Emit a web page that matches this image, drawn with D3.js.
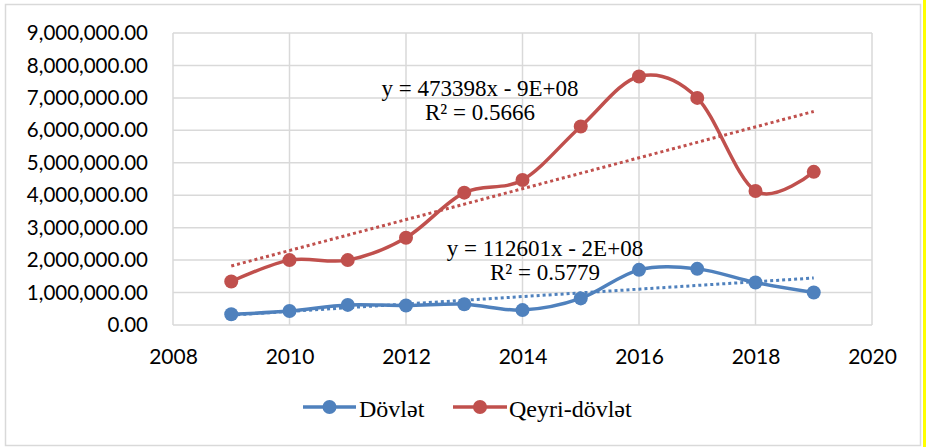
<!DOCTYPE html>
<html><head><meta charset="utf-8">
<script src="https://cdn.jsdelivr.net/npm/d3@7"></script>
<style>html,body{margin:0;padding:0;background:#fff;overflow:hidden}</style>
</head><body>
<svg id="c" width="926" height="447"></svg>
<script>
const years = [2009,2010,2011,2012,2013,2014,2015,2016,2017,2018,2019];
const dovlet = [330000,430000,620000,600000,640000,460000,820000,1700000,1730000,1310000,1000000];
const qeyriDovlet = [1340000,2000000,2000000,2690000,4080000,4470000,6120000,7660000,7000000,4130000,4720000];
const seriesNames = ["Dövlət","Qeyri-dövlət"];
const xTicks = [2008,2010,2012,2014,2016,2018,2020];
const yTicks = [0,1000000,2000000,3000000,4000000,5000000,6000000,7000000,8000000,9000000];
const trendLabels = [
  {eq:"y = 112601x - 2E+08", r2:"R² = 0.5779"},
  {eq:"y = 473398x - 9E+08", r2:"R² = 0.5666"}
];
const colors = ["#4F81BD","#C0504D"];

const svg = d3.select("#c");
// outer frame
svg.append("rect").attr("x",5.5).attr("y",4.5).attr("width",915).attr("height",441)
  .attr("fill","#fff").attr("stroke","#d9d9d9").attr("stroke-width",1.5);
svg.append("rect").attr("x",923).attr("y",0).attr("width",3).attr("height",447).attr("fill","#ffff00");

const L=173, R=872, T=33, B=325;
const x = d3.scaleLinear().domain([2008,2020]).range([L,R]);
const y = d3.scaleLinear().domain([0,9000000]).range([B,T]);

// grid
const g = svg.append("g");
g.selectAll(".hg").data(yTicks).join("line")
  .attr("x1",L).attr("x2",R).attr("y1",d=>y(d)).attr("y2",d=>y(d))
  .attr("stroke","#d9d9d9").attr("stroke-width",1.5);
g.selectAll(".vg").data(xTicks).join("line")
  .attr("x1",d=>x(d)).attr("x2",d=>x(d)).attr("y1",T).attr("y2",B)
  .attr("stroke","#d9d9d9").attr("stroke-width",1.5);

// axes
const fmt = d3.format(",.2f");
const ya = svg.append("g").attr("transform",`translate(${L},0)`)
  .call(d3.axisLeft(y).tickValues(yTicks).tickFormat(fmt).tickSize(0).tickPadding(25));
const xa = svg.append("g").attr("transform",`translate(0,${B})`)
  .call(d3.axisBottom(x).tickValues(xTicks).tickFormat(d3.format("d")).tickSize(0).tickPadding(24));
[ya,xa].forEach(a=>{a.select(".domain").remove();
  a.selectAll("text").attr("font-family","Lato, sans-serif").attr("fill","#000");});
ya.selectAll("text").attr("font-size",20.5);
xa.selectAll("text").attr("font-size",21);

// trendlines (least-squares fit of each series)
function fit(vals){
  const mx=d3.mean(years), my=d3.mean(vals);
  let sxy=0,sxx=0; years.forEach((t,i)=>{sxy+=(t-mx)*(vals[i]-my); sxx+=(t-mx)*(t-mx);});
  const b=sxy/sxx, a=my-b*mx; return t=>a+b*t;
}
const data=[dovlet,qeyriDovlet];
data.forEach((vals,i)=>{
  const f=fit(vals);
  svg.append("line").attr("x1",x(years[0])).attr("x2",x(years[years.length-1]))
    .attr("y1",y(f(years[0]))).attr("y2",y(f(years[years.length-1])))
    .attr("stroke",colors[i]).attr("stroke-width",3).attr("stroke-dasharray","3 3");
});

// series
const line = d3.line().x((d,i)=>x(years[i])).y(d=>y(d)).curve(d3.curveCardinal.tension(0));
data.forEach((vals,i)=>{
  svg.append("path").attr("d",line(vals)).attr("fill","none").attr("stroke",colors[i])
    .attr("stroke-width",3.5);
  svg.selectAll(null).data(vals).join("circle")
    .attr("cx",(d,j)=>x(years[j])).attr("cy",d=>y(d)).attr("r",7).attr("fill",colors[i]);
});

// trend labels
const tl = [{cx:545,y1:256,y2:280},{cx:480,y1:96,y2:120}];
trendLabels.forEach((t,i)=>{
  const tx=svg.append("g").attr("font-family","Liberation Serif, Times New Roman, serif")
    .attr("font-size",23).attr("text-anchor","middle").attr("fill","#000");
  tx.append("text").attr("x",tl[i].cx).attr("y",tl[i].y1).text(t.eq);
  tx.append("text").attr("x",tl[i].cx).attr("y",tl[i].y2).text(t.r2);
});

// legend
const lg = [{x1:303,x2:356,tx:359},{x1:453,x2:507,tx:509}];
seriesNames.forEach((n,i)=>{
  const yy=407;
  svg.append("line").attr("x1",lg[i].x1).attr("x2",lg[i].x2).attr("y1",yy).attr("y2",yy)
    .attr("stroke",colors[i]).attr("stroke-width",3.5);
  svg.append("circle").attr("cx",(lg[i].x1+lg[i].x2)/2).attr("cy",yy).attr("r",7).attr("fill",colors[i]);
  svg.append("text").attr("x",lg[i].tx).attr("y",417).text(n)
    .attr("font-family","Liberation Serif, Times New Roman, serif").attr("font-size",24).attr("fill","#000");
});
</script>
</body></html>
